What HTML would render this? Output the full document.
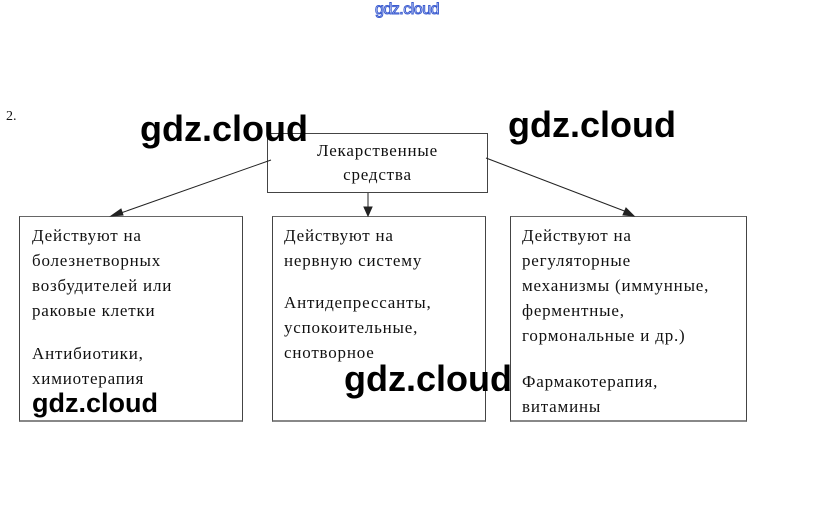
<!DOCTYPE html>
<html><head><meta charset="utf-8"><style>
body{margin:0;width:824px;height:529px;background:#fff;position:relative;overflow:hidden;font-family:"Liberation Serif",serif;color:#111}
.a{position:absolute}
.box{position:absolute;border:1px solid #444;border-bottom:2px solid #888;box-sizing:border-box}
.t{position:absolute;font-size:17px;line-height:25px;white-space:nowrap;letter-spacing:0.8px}
.wm{position:absolute;font-family:"Liberation Sans",sans-serif;font-weight:bold;color:#000;white-space:nowrap}
</style></head><body>
<div class="a" style="left:375px;top:1px;font-family:'Liberation Sans',sans-serif;font-size:16px;color:#fff;-webkit-text-stroke:1px #3a5bd0;letter-spacing:-0.5px">gdz.cloud</div>
<div class="t" style="left:6px;top:104px;font-size:14px;letter-spacing:0">2.</div>
<div class="box" style="left:267px;top:133px;width:221px;height:60px;border-bottom:1px solid #444"></div>
<div class="t" style="left:267px;top:139px;width:221px;text-align:center;line-height:24px">Лекарственные<br>средства</div>
<div class="box" style="left:19px;top:216px;width:224px;height:206px;border-top-color:#666"></div>
<div class="box" style="left:272px;top:216px;width:214px;height:206px;border-top-color:#666"></div>
<div class="box" style="left:510px;top:216px;width:237px;height:206px;border-top-color:#666"></div>
<svg class="a" style="left:0;top:0" width="824" height="529">
<g stroke="#222" stroke-width="1" fill="#222">
<line x1="271" y1="160" x2="118" y2="214"/><polygon points="111,216 121,209 123,215"/>
<line x1="368" y1="193" x2="368" y2="209"/><polygon points="364,207 372,207 368,216"/>
<line x1="486" y1="158" x2="627" y2="212"/><polygon points="634,216 623,215 626,208"/>
</g></svg>
<div class="t" style="left:32px;top:223px">Действуют на<br>болезнетворных<br>возбудителей или<br>раковые клетки</div>
<div class="t" style="left:32px;top:341px">Антибиотики,<br>химиотерапия</div>
<div class="t" style="left:284px;top:223px">Действуют на<br>нервную систему</div>
<div class="t" style="left:284px;top:290px">Антидепрессанты,<br>успокоительные,<br>снотворное</div>
<div class="t" style="left:522px;top:223px">Действуют на<br>регуляторные<br>механизмы (иммунные,<br>ферментные,<br>гормональные и др.)</div>
<div class="t" style="left:522px;top:369px">Фармакотерапия,<br>витамины</div>
<div class="wm" style="left:140px;top:108px;font-size:36px">gdz.cloud</div>
<div class="wm" style="left:508px;top:104px;font-size:36px">gdz.cloud</div>
<div class="wm" style="left:344px;top:358px;font-size:36px">gdz.cloud</div>
<div class="wm" style="left:32px;top:388px;font-size:27px">gdz.cloud</div>
</body></html>
